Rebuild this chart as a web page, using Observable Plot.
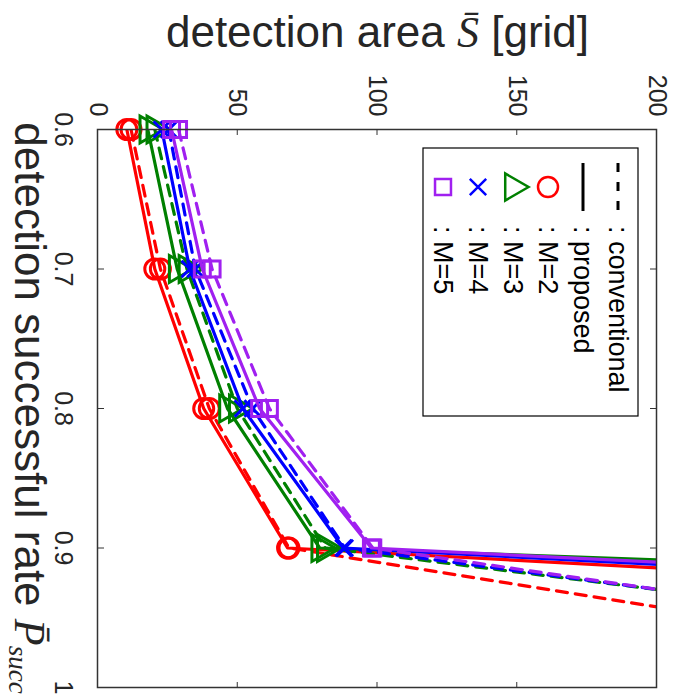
<!DOCTYPE html>
<html><head><meta charset="utf-8">
<script src="https://cdn.jsdelivr.net/npm/d3@7"></script>
<script src="https://cdn.jsdelivr.net/npm/@observablehq/plot@0.6"></script>
<style>
html,body{margin:0;padding:0;background:#fff}
#wrap{position:relative;width:679px;height:700px;overflow:hidden;background:#fff}
#rot{position:absolute;left:0;top:0;width:700px;height:679px;transform-origin:0 0;transform:translate(679px,0) rotate(90deg)}
</style></head><body>
<div id="wrap"><div id="rot"></div></div>
<script>
// ---- data ----
const rates = [0.6, 0.7, 0.8, 0.9, 1.0];
const xTicks = [0.6, 0.7, 0.8, 0.9, 1.0];
const yTicks = [0, 50, 100, 150, 200];
const groups = ["M=2", "M=3", "M=4", "M=5"];
const proposedM2 = [10.5, 20.5, 38.0, 68.0, 1000];
const proposedM3 = [18.0, 28.5, 46.5, 79.5, 1500];
const proposedM4 = [23.0, 33.0, 52.0, 88.0, 1040];
const proposedM5 = [26.5, 37.5, 58.0, 98.0, 1100];
const conventionalM2 = [12.0, 22.5, 40.0, 68.5, 380];
const conventionalM3 = [20.5, 32.0, 50.0, 81.5, 480];
const conventionalM4 = [25.5, 35.0, 55.5, 88.5, 465];
const conventionalM5 = [29.0, 41.0, 61.5, 98.5, 442];
const legendLabels = [": conventional", ": proposed", ": M=2", ": M=3", ": M=4", ": M=5"];

const colors = {"M=2": "#ff0000", "M=3": "#008000", "M=4": "#0000ff", "M=5": "#a020f0"};
const symbols = {"M=2": "circle", "M=3": "triangle", "M=4": "times", "M=5": "square"};
const radii = {"M=2": 10, "M=3": 10, "M=4": 7.5, "M=5": 9};

const seriesValues = {
  "M=2": {proposed: proposedM2, conventional: conventionalM2},
  "M=3": {proposed: proposedM3, conventional: conventionalM3},
  "M=4": {proposed: proposedM4, conventional: conventionalM4},
  "M=5": {proposed: proposedM5, conventional: conventionalM5}
};
const rows = [];
for (const M of groups) for (const method of ["conventional", "proposed"]) {
  seriesValues[M][method].forEach((v, i) => rows.push({rate: rates[i], area: v, M, method}));
}

const axisColor = "#333333";
const narrow = "'Liberation Sans Narrow', 'Arial Narrow', 'Liberation Sans', Arial, sans-serif";
const marks = [];
for (const M of groups) {
  for (const method of ["conventional", "proposed"]) {
    const d = rows.filter(r => r.M === M && r.method === method);
    marks.push(Plot.line(d, {x: "rate", y: "area", stroke: colors[M], strokeWidth: 3.2,
      strokeDasharray: method === "conventional" ? "11,8" : null, clip: true}));
    marks.push(Plot.dot(d.filter(r => r.area <= 200), {x: "rate", y: "area", symbol: symbols[M],
      r: radii[M], stroke: colors[M], strokeWidth: 3, fill: "none"}));
  }
}

const plot = Plot.plot({
  width: 700, height: 679,
  marginLeft: 129, marginRight: 13, marginTop: 22, marginBottom: 98,
  style: {fontFamily: "'Liberation Sans', Arial, Helvetica, sans-serif", background: "white", color: "#262626"},
  x: {domain: [0.6, 1.0]},
  y: {domain: [0, 200]},
  marks: [
    ...marks,
    Plot.frame({stroke: axisColor, strokeWidth: 1.5}),
    Plot.axisX({anchor: "bottom", ticks: xTicks, tickSize: 0, tickPadding: 25, fontSize: 25, fontFamily: narrow, label: null,
      tickFormat: d => d === 1 ? "1" : d3.format(".1f")(d)}),
    Plot.axisY({anchor: "left", ticks: yTicks, tickSize: 0, tickPadding: 13, fontSize: 25, fontFamily: narrow, label: null}),
    Plot.axisX({anchor: "bottom", ticks: xTicks, tickSize: -6, tickFormat: () => "", label: null, stroke: axisColor}),
    Plot.axisX({anchor: "top", ticks: xTicks, tickSize: -6, tickFormat: () => "", label: null, stroke: axisColor}),
    Plot.axisY({anchor: "left", ticks: yTicks, tickSize: -6, tickFormat: () => "", label: null, stroke: axisColor}),
    Plot.axisY({anchor: "right", ticks: yTicks, tickSize: -6, tickFormat: () => "", label: null, stroke: axisColor})
  ]
});
document.getElementById("rot").appendChild(plot);

const xs = plot.scale("x"), ys = plot.scale("y");
const svg = d3.select(plot);
const serif = "'Liberation Serif', 'DejaVu Serif', serif";

// y label
const yl = svg.append("text")
  .attr("transform", `translate(47,${ys.apply(100)}) rotate(-90)`)
  .attr("text-anchor", "middle").attr("font-size", 44).attr("fill", "#262626");
yl.append("tspan").text("detection area ");
yl.append("tspan").attr("font-family", serif).attr("font-style", "italic").text("S\u0304");
yl.append("tspan").text(" [grid]");

// x label
const xl = svg.append("text")
  .attr("x", xs.apply(0.8)).attr("y", 664)
  .attr("text-anchor", "middle").attr("font-size", 44).attr("fill", "#262626");
xl.append("tspan").text("detection successful rate ");
xl.append("tspan").attr("font-family", serif).attr("font-style", "italic").text("P\u0304");
xl.append("tspan").attr("font-family", serif).attr("font-style", "italic").attr("font-size", 27).attr("dy", 6).text("succ");

// legend
const lg = svg.append("g");
lg.append("rect").attr("x", 148).attr("y", 41).attr("width", 268).attr("height", 215)
  .attr("fill", "white").attr("stroke", "#000").attr("stroke-width", 1.2);
const symMap = {circle: d3.symbolCircle, triangle: d3.symbolTriangle, times: d3.symbolTimes, square: d3.symbolSquare};
legendLabels.forEach((lab, i) => {
  const cy = 61 + 35 * i;
  if (i < 2) {
    lg.append("line").attr("x1", 163).attr("x2", 211).attr("y1", cy).attr("y2", cy)
      .attr("stroke", "#000").attr("stroke-width", 3)
      .attr("stroke-dasharray", i === 0 ? "9,10" : null);
  } else {
    const M = groups[i - 2];
    const r = radii[M];
    lg.append("path").attr("transform", `translate(187,${cy})`)
      .attr("d", d3.symbol(symMap[symbols[M]], r * r * Math.PI)())
      .attr("fill", "none").attr("stroke", colors[M]).attr("stroke-width", 2.5);
  }
  lg.append("text").attr("x", 226).attr("y", cy).attr("dy", "0.35em")
    .attr("text-anchor", "start").attr("font-family", narrow)
    .attr("font-size", 27).attr("fill", "#000").text(lab);
});
</script>
</body></html>
